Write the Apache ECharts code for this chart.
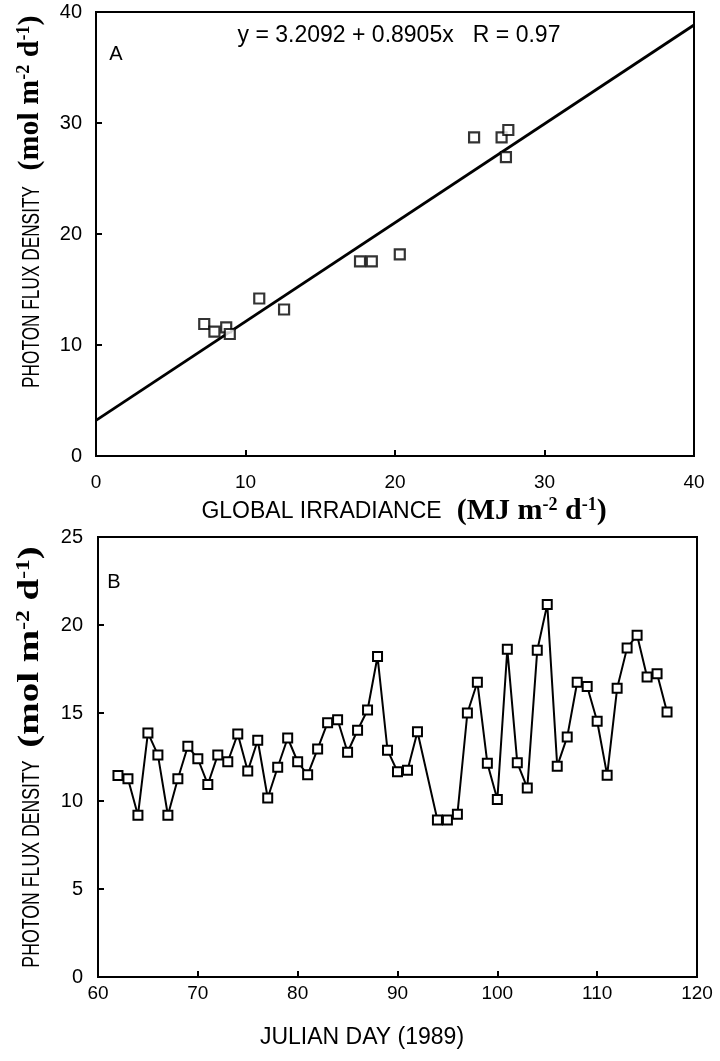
<!DOCTYPE html>
<html><head><meta charset="utf-8">
<script src="https://cdn.jsdelivr.net/npm/echarts@6/dist/echarts.min.js"></script>
<style>html,body{margin:0;padding:0;background:#fff}#c{width:720px;height:1061px}</style>
</head><body><div id="c"></div>
<script>
// Panel A: photon flux density vs global irradiance
const irradiance = [7.24, 7.92, 8.71, 8.95, 10.92, 12.58, 17.66, 18.45, 20.32, 25.29, 27.13, 27.58, 27.42];
const photonFluxA = [11.89, 11.20, 11.59, 10.99, 14.19, 13.20, 17.54, 17.54, 18.17, 28.71, 28.71, 29.37, 26.92];
const regressionX = [0, 40];
const regressionY = [3.21, 38.83];
const equationText = 'y = 3.2092 + 0.8905x   R = 0.97';
const ticksA_X = [0, 10, 20, 30, 40];
const ticksA_Y = [0, 10, 20, 30, 40];

// Panel B: daily photon flux density vs Julian day
const julianDays = [62,63,64,65,66,67,68,69,70,71,72,73,74,75,76,77,78,79,80,81,82,83,84,85,86,87,88,89,90,91,92,
  94,95,96,97,98,99,100,101,102,103,104,105,106,107,108,109,110,111,112,113,114,115,116,117];
const photonFluxB = [11.45,11.26,9.19,13.87,12.62,9.19,11.26,13.11,12.40,10.94,12.62,12.23,13.81,11.70,13.45,10.17,11.92,13.58,12.23,11.49,12.96,14.45,14.62,12.77,14.02,15.17,18.21,12.89,11.66,11.75,13.94,
  8.92,8.92,9.25,15.00,16.75,12.15,10.09,18.62,12.17,10.74,18.57,21.17,11.98,13.64,16.75,16.51,14.53,11.47,16.40,18.70,19.42,17.04,17.23,15.06];
const ticksB_X = [60, 70, 80, 90, 100, 110, 120];
const ticksB_Y = [0, 5, 10, 15, 20, 25];

const SANS = "'Liberation Sans', Arial, Helvetica, sans-serif";
const SERIF = "'Liberation Serif', 'Times New Roman', serif";

const chart = echarts.init(document.getElementById('c'), null, {renderer: 'canvas'});

function axisCommon(min, max, interval, labelMargin, fontSize) {
  return {
    min: min, max: max, interval: interval,
    axisLine: {show: true, lineStyle: {color: '#000', width: 2}},
    axisTick: {show: true, inside: true, length: 6, lineStyle: {color: '#000', width: 2}},
    axisLabel: {color: '#000', fontFamily: SANS, fontSize: fontSize, margin: labelMargin, showMinLabel: true, showMaxLabel: true},
    splitLine: {show: false}
  };
}

const richSerif = {
  ser: {fontFamily: SERIF, fontWeight: 'bold', fontSize: 30, color: '#000', verticalAlign: 'bottom'},
  sup: {fontFamily: SERIF, fontWeight: 'bold', fontSize: 18, color: '#000', verticalAlign: 'top'},
  sans: {fontFamily: SANS, fontSize: 23, color: '#000', verticalAlign: 'bottom', padding: [0, 0, 3, 0]}
};

const unitsY = '{ser|(mol m}{sup|-2}{ser| d}{sup|-1}{ser|)}';
const xTitleA = '{sans|GLOBAL IRRADIANCE}{ser|  (MJ m}{sup|-2}{ser| d}{sup|-1}{ser|)}';

const option = {
  backgroundColor: '#fff',
  animation: false,
  grid: [
    {left: 96, right: 26, top: 12, height: 444, show: true, borderColor: '#000', borderWidth: 2, backgroundColor: 'transparent'},
    {left: 98, right: 23, top: 537, height: 440, show: true, borderColor: '#000', borderWidth: 2, backgroundColor: 'transparent'}
  ],
  xAxis: [
    Object.assign({type: 'value', gridIndex: 0}, axisCommon(ticksA_X[0], ticksA_X[ticksA_X.length-1], ticksA_X[1]-ticksA_X[0], 17, 19)),
    Object.assign({type: 'value', gridIndex: 1}, axisCommon(ticksB_X[0], ticksB_X[ticksB_X.length-1], ticksB_X[1]-ticksB_X[0], 7, 19))
  ],
  yAxis: [
    Object.assign({type: 'value', gridIndex: 0}, axisCommon(ticksA_Y[0], ticksA_Y[ticksA_Y.length-1], ticksA_Y[1]-ticksA_Y[0], 14, 20)),
    Object.assign({type: 'value', gridIndex: 1}, axisCommon(ticksB_Y[0], ticksB_Y[ticksB_Y.length-1], ticksB_Y[1]-ticksB_Y[0], 15, 20))
  ],
  series: [
    {
      type: 'line', xAxisIndex: 0, yAxisIndex: 0,
      data: regressionX.map((x, i) => [x, regressionY[i]]),
      showSymbol: false, symbol: 'none',
      lineStyle: {color: '#000', width: 2.8}, z: 2
    },
    {
      type: 'scatter', xAxisIndex: 0, yAxisIndex: 0,
      data: irradiance.map((x, i) => [x, photonFluxA[i]]),
      symbol: 'rect', symbolSize: 10,
      itemStyle: {color: '#fff', borderColor: '#000', borderWidth: 2.2}, z: 3
    },
    {
      type: 'line', xAxisIndex: 1, yAxisIndex: 1,
      data: julianDays.map((d, i) => [d, photonFluxB[i]]),
      symbol: 'rect', symbolSize: 9, showAllSymbol: true,
      lineStyle: {color: '#000', width: 2},
      itemStyle: {color: '#fff', borderColor: '#000', borderWidth: 2}, z: 3
    }
  ],
  graphic: [
    {type: 'text', x: 116, y: 54, style: {text: 'A', font: '20px ' + SANS, fill: '#000', align: 'center', verticalAlign: 'middle'}},
    {type: 'text', x: 399, y: 36, style: {text: equationText, font: '23px ' + SANS, fill: '#000', align: 'center', verticalAlign: 'middle'}},
    // Panel A y title
    {type: 'text', x: 33, y: 287, rotation: Math.PI / 2, scaleX: 0.75,
      style: {text: 'PHOTON FLUX DENSITY', font: '23px ' + SANS, fill: '#000', align: 'center', verticalAlign: 'middle'}},
    {type: 'text', x: 30, y: 93, rotation: Math.PI / 2,
      style: {text: unitsY, rich: richSerif, align: 'center', verticalAlign: 'middle', fill: '#000'}},
    // Panel A x title
    {type: 'text', x: 404, y: 511,
      style: {text: xTitleA, rich: richSerif, align: 'center', verticalAlign: 'middle', fill: '#000'}},
    // Panel B
    {type: 'text', x: 114, y: 582, style: {text: 'B', font: '20px ' + SANS, fill: '#000', align: 'center', verticalAlign: 'middle'}},
    {type: 'text', x: 33, y: 864, rotation: Math.PI / 2, scaleX: 0.77,
      style: {text: 'PHOTON FLUX DENSITY', font: '23px ' + SANS, fill: '#000', align: 'center', verticalAlign: 'middle'}},
    {type: 'text', x: 30, y: 647, rotation: Math.PI / 2, scaleX: 1.3,
      style: {text: unitsY, rich: richSerif, align: 'center', verticalAlign: 'middle', fill: '#000'}},
    {type: 'text', x: 362, y: 1038, style: {text: 'JULIAN DAY (1989)', font: '23px ' + SANS, fill: '#000', align: 'center', verticalAlign: 'middle'}}
  ]
};
chart.setOption(option);
</script>
</body></html>
